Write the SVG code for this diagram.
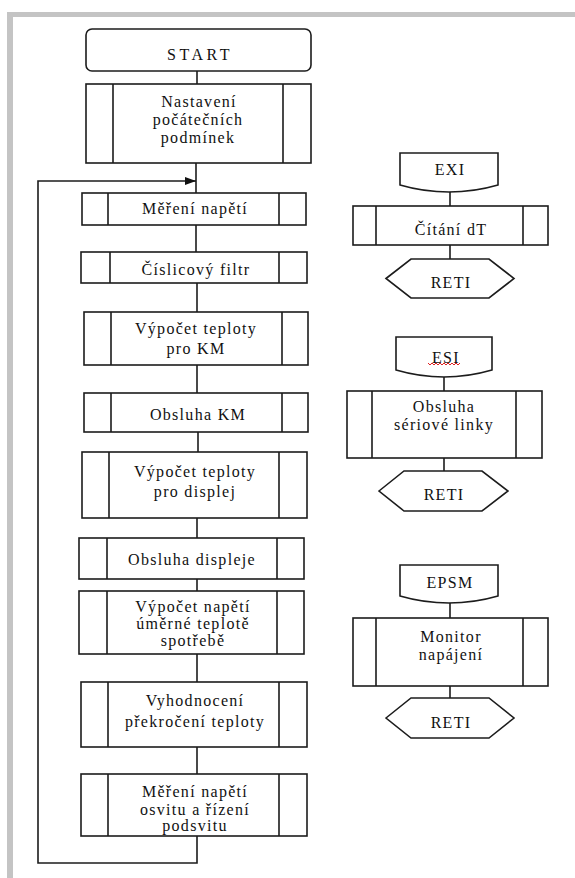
<svg xmlns="http://www.w3.org/2000/svg" width="575" height="878" viewBox="0 0 575 878">
  <style>
    .box { fill: #ffffff; stroke: #1c1c1c; stroke-width: 1.6; }
    .div { stroke: #1c1c1c; stroke-width: 1.6; fill: none; }
    .wire { stroke: #1c1c1c; stroke-width: 1.6; fill: none; }
    .lbl { font-family: "Liberation Serif", "Times New Roman", serif; font-size: 16px; fill: #111111; text-anchor: middle; letter-spacing: 1.3px; }
    .start { letter-spacing: 3.5px; }
  </style>
  <defs>
    <marker id="arr" markerUnits="userSpaceOnUse" markerWidth="12" markerHeight="9" refX="11" refY="4" orient="auto">
      <path d="M0,0 L11,4 L0,8 z" fill="#111111"/>
    </marker>
  </defs>

  <!-- page frame -->
  <rect x="0" y="0" width="575" height="878" fill="#ffffff"/>
  <rect x="7" y="12" width="568" height="5" fill="#c4c4c4"/>
  <rect x="7" y="12" width="6" height="866" fill="#c4c4c4"/>

  <!-- connectors -->
  <g id="connectors">
    <line class="wire" x1="197" y1="71" x2="197" y2="84"/>
    <line class="wire" x1="196" y1="163" x2="196" y2="193"/>
    <line class="wire" x1="196" y1="225" x2="196" y2="252"/>
    <line class="wire" x1="197" y1="283" x2="197" y2="312"/>
    <line class="wire" x1="197" y1="365" x2="197" y2="393"/>
    <line class="wire" x1="198" y1="432" x2="198" y2="452"/>
    <line class="wire" x1="197" y1="518" x2="197" y2="538"/>
    <line class="wire" x1="197" y1="579" x2="197" y2="591"/>
    <line class="wire" x1="197" y1="654" x2="197" y2="682"/>
    <line class="wire" x1="197" y1="747" x2="197" y2="774"/>
    <path class="wire" d="M197,836 V863 H38 V181 H196" marker-end="url(#arr)"/>
    <line class="wire" x1="450" y1="191" x2="450" y2="206"/>
    <line class="wire" x1="450" y1="245" x2="450" y2="259"/>
    <line class="wire" x1="444" y1="376" x2="444" y2="391"/>
    <line class="wire" x1="444" y1="458" x2="444" y2="471"/>
    <line class="wire" x1="450" y1="603" x2="450" y2="618"/>
    <line class="wire" x1="450" y1="686" x2="450" y2="698"/>
  </g>

  <!-- main program -->
  <g id="start">
    <rect class="box" x="86" y="29" width="225" height="42" rx="6"/>
    <text class="lbl start" x="200" y="60">START</text>
  </g>

  <g id="init">
    <rect class="box" x="86" y="84" width="225" height="79"/>
    <path class="div" d="M113,84 V163 M283,84 V163"/>
    <text class="lbl" x="199" y="107">Nastavení</text>
    <text class="lbl" x="198" y="125">počátečních</text>
    <text class="lbl" x="198" y="143">podmínek</text>
  </g>

  <g id="measure-voltage">
    <rect class="box" x="82" y="193" width="224" height="32"/>
    <path class="div" d="M108,193 V225 M279,193 V225"/>
    <text class="lbl" x="195" y="214">Měření napětí</text>
  </g>

  <g id="digital-filter">
    <rect class="box" x="81" y="252" width="226" height="31"/>
    <path class="div" d="M110,252 V283 M279,252 V283"/>
    <text class="lbl" x="196" y="275">Číslicový filtr</text>
  </g>

  <g id="temp-km">
    <rect class="box" x="84" y="312" width="224" height="53"/>
    <path class="div" d="M111,312 V365 M282,312 V365"/>
    <text class="lbl" x="196" y="334">Výpočet teploty</text>
    <text class="lbl" x="196" y="354">pro KM</text>
  </g>

  <g id="service-km">
    <rect class="box" x="84" y="393" width="224" height="39"/>
    <path class="div" d="M111,393 V432 M282,393 V432"/>
    <text class="lbl" x="198" y="420">Obsluha KM</text>
  </g>

  <g id="temp-display">
    <rect class="box" x="82" y="452" width="225" height="66"/>
    <path class="div" d="M109,452 V518 M279,452 V518"/>
    <text class="lbl" x="195" y="477">Výpočet teploty</text>
    <text class="lbl" x="195" y="497">pro displej</text>
  </g>

  <g id="service-display">
    <rect class="box" x="79" y="538" width="225" height="41"/>
    <path class="div" d="M107,538 V579 M277,538 V579"/>
    <text class="lbl" x="192" y="565">Obsluha displeje</text>
  </g>

  <g id="consumption-voltage">
    <rect class="box" x="79" y="591" width="225" height="63"/>
    <path class="div" d="M107,591 V654 M277,591 V654"/>
    <text class="lbl" x="193" y="612">Výpočet napětí</text>
    <text class="lbl" x="193" y="629">úměrné teplotě</text>
    <text class="lbl" x="193" y="646">spotřebě</text>
  </g>

  <g id="overheat-check">
    <rect class="box" x="81" y="682" width="226" height="65"/>
    <path class="div" d="M108,682 V747 M279,682 V747"/>
    <text class="lbl" x="195" y="706">Vyhodnocení</text>
    <text class="lbl" x="195" y="727">překročení teploty</text>
  </g>

  <g id="backlight">
    <rect class="box" x="81" y="774" width="226" height="62"/>
    <path class="div" d="M108,774 V836 M279,774 V836"/>
    <text class="lbl" x="195" y="797">Měření napětí</text>
    <text class="lbl" x="195" y="815">osvitu a řízení</text>
    <text class="lbl" x="195" y="831">podsvitu</text>
  </g>

  <!-- interrupt EXI -->
  <g id="exi">
    <path class="box" d="M400,153 H498 V185 Q474,192 449,192 Q424,192 400,185 Z"/>
    <text class="lbl" x="450" y="175">EXI</text>
  </g>
  <g id="exi-count">
    <rect class="box" x="353" y="206" width="195" height="39"/>
    <path class="div" d="M376,206 V245 M523,206 V245"/>
    <text class="lbl" x="451" y="235">Čítání dT</text>
  </g>
  <g id="exi-reti">
    <path class="box" d="M386,278.5 L411,259 H489 L514,278.5 L489,298 H411 Z"/>
    <text class="lbl" x="451" y="288">RETI</text>
  </g>

  <!-- interrupt ESI -->
  <g id="esi">
    <path class="box" d="M396,337 H492 V370 Q468,377 444,377 Q420,377 396,370 Z"/>
    <text class="lbl" x="446" y="363">ESI</text>
    <path d="M428,363 l2,2 l2,-2 l2,2 l2,-2 l2,2 l2,-2 l2,2 l2,-2 l2,2 l2,-2 l2,2 l2,-2 l2,2 l2,-2 l2,2 l2,-2" fill="none" stroke="#e02020" stroke-width="1"/>
  </g>
  <g id="esi-serial">
    <rect class="box" x="347" y="391" width="195" height="67"/>
    <path class="div" d="M372,391 V458 M516,391 V458"/>
    <text class="lbl" x="444" y="412">Obsluha</text>
    <text class="lbl" x="444" y="430">sériové linky</text>
  </g>
  <g id="esi-reti">
    <path class="box" d="M379,491 L404,471 H482 L508,491 L482,511 H404 Z"/>
    <text class="lbl" x="444" y="500">RETI</text>
  </g>

  <!-- interrupt EPSM -->
  <g id="epsm">
    <path class="box" d="M400,565 H498 V596 Q474,603 449,603 Q424,603 400,596 Z"/>
    <text class="lbl" x="450" y="588">EPSM</text>
  </g>
  <g id="epsm-monitor">
    <rect class="box" x="353" y="618" width="195" height="68"/>
    <path class="div" d="M376,618 V686 M523,618 V686"/>
    <text class="lbl" x="451" y="642">Monitor</text>
    <text class="lbl" x="451" y="660">napájení</text>
  </g>
  <g id="epsm-reti">
    <path class="box" d="M386,718 L411,698 H489 L514,718 L489,738 H411 Z"/>
    <text class="lbl" x="451" y="728">RETI</text>
  </g>
</svg>
